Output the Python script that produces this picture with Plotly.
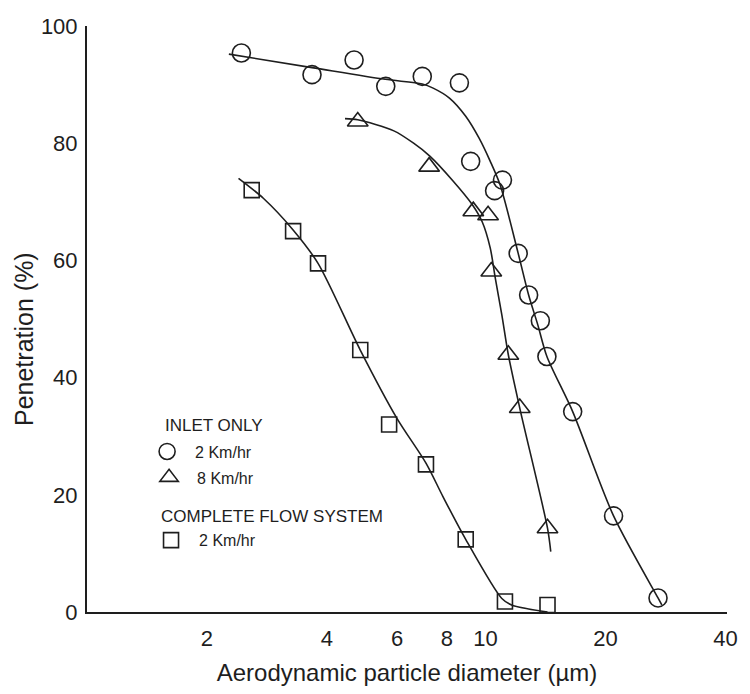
import math
import plotly.graph_objects as go

# ---------------- data ----------------
# Inlet only, 2 km/hr (circles)
inlet2_x = [2.44, 3.67, 4.68, 5.62, 6.94, 8.60, 9.18, 10.54, 11.03, 12.08, 12.83, 13.73, 14.26, 16.55, 20.96, 27.1]
inlet2_y = [95.4, 91.7, 94.2, 89.7, 91.4, 90.3, 76.9, 71.9, 73.7, 61.2, 54.1, 49.7, 43.6, 34.2, 16.4, 2.4]
inlet2_fit_x = [2.27, 3.67, 5.6, 6.94, 7.39, 8.12, 8.92, 9.63, 10.28, 10.88, 12.08, 12.83, 13.53, 14.26, 16.55, 20.96, 27.1, 27.7]
inlet2_fit_y = [95.2, 92.9, 90.9, 90.1, 89.4, 87.7, 84.6, 80.9, 76.9, 72.9, 61.2, 54.1, 49.0, 43.6, 34.2, 16.4, 2.4, 1.2]

# Inlet only, 8 km/hr (triangles)
inlet8_x = [4.78, 7.22, 9.32, 10.15, 10.34, 11.41, 12.19, 14.31]
inlet8_y = [83.7, 76.0, 68.4, 67.7, 58.1, 43.9, 34.8, 14.3]
inlet8_fit_x = [4.44, 4.78, 5.89, 6.60, 7.25, 8.28, 9.27, 9.81, 10.28, 10.58, 10.99, 11.41, 12.19, 14.31, 14.58]
inlet8_fit_y = [84.2, 84.0, 82.1, 80.0, 77.8, 73.6, 69.5, 66.6, 62.1, 57.0, 50.7, 43.9, 34.8, 14.3, 10.3]

# Complete flow system, 2 km/hr (squares)
system2_x = [2.59, 3.29, 3.80, 4.85, 5.73, 7.09, 8.92, 11.19, 14.31]
system2_y = [72.0, 65.0, 59.5, 44.7, 32.0, 25.2, 12.4, 1.8, 1.2]
system2_fit_x = [2.40, 2.77, 3.29, 3.80, 4.85, 6.00, 7.09, 7.82, 8.92, 10.99, 11.63, 14.31]
system2_fit_y = [74.0, 70.6, 65.2, 59.5, 44.7, 33.0, 25.4, 19.7, 12.4, 2.3, 1.2, 0.0]

x_ticks = [2, 4, 6, 8, 10, 20, 40]
y_ticks = [0, 20, 40, 60, 80, 100]

# ---------------- styling ----------------
INK = "#1e1e1e"
FONT = "Liberation Sans, Arial, Helvetica, sans-serif"
W, H = 750, 694
ML, MR, MT, MB = 87, 12, 26, 80
PW, PH = W - ML - MR, H - MT - MB
TICK_FS = 22
XTITLE_FS = 24
YTITLE_FS = 25
LEG_FS = 16
LEG_TITLE_FS = 17


def px_to_paper_x(px):
    return (px - ML) / PW


def px_to_paper_y(py):
    return (H - MB - py) / PH


fig = go.Figure()

line_style = dict(color=INK, width=1.6, shape="spline", smoothing=0.8)
for fx, fy in [(inlet2_fit_x, inlet2_fit_y), (inlet8_fit_x, inlet8_fit_y), (system2_fit_x, system2_fit_y)]:
    fig.add_trace(go.Scatter(x=fx, y=fy, mode="lines", line=line_style,
                             showlegend=False, hoverinfo="skip"))

mk_line = dict(color=INK, width=1.6)
fig.add_trace(go.Scatter(x=inlet2_x, y=inlet2_y, mode="markers", name="2 Km/hr", legend="legend",
                         marker=dict(symbol="circle-open", size=18, color=INK, line=mk_line)))
fig.add_trace(go.Scatter(x=inlet8_x, y=inlet8_y, mode="markers", name="8 Km/hr", legend="legend2",
                         marker=dict(symbol="triangle-up-open", size=18, color=INK, line=mk_line)))
fig.add_trace(go.Scatter(x=system2_x, y=system2_y, mode="markers", name="2 Km/hr", legend="legend3",
                         marker=dict(symbol="square-open", size=15, color=INK, line=mk_line)))

leg_common = dict(xanchor="left", yanchor="middle", bgcolor="rgba(0,0,0,0)",
                  font=dict(family=FONT, size=LEG_FS, color=INK), itemwidth=46)

fig.update_layout(
    width=W, height=H,
    margin=dict(l=ML, r=MR, t=MT, b=MB),
    paper_bgcolor="white", plot_bgcolor="white",
    font=dict(family=FONT, color=INK),
    legend=dict(x=px_to_paper_x(140), y=px_to_paper_y(453), **leg_common),
    legend2=dict(x=px_to_paper_x(142), y=px_to_paper_y(479), **leg_common),
    legend3=dict(x=px_to_paper_x(144), y=px_to_paper_y(542), **leg_common),
    xaxis=dict(
        type="log", range=[0, math.log10(40) + 0.004],
        tickmode="array", tickvals=x_ticks, ticktext=[str(v) for v in x_ticks],
        showgrid=False, zeroline=False, showline=True, linecolor=INK, linewidth=2,
        ticks="", ticklabelstandoff=6,
        tickfont=dict(family=FONT, size=TICK_FS, color=INK),
        title=dict(text="Aerodynamic particle diameter (\u00b5m)", standoff=14,
                   font=dict(family=FONT, size=XTITLE_FS, color=INK)),
    ),
    yaxis=dict(
        range=[0, 100], tickmode="array", tickvals=y_ticks,
        showgrid=False, zeroline=False, showline=True, linecolor=INK, linewidth=2,
        ticks="", ticklabelstandoff=3,
        tickfont=dict(family=FONT, size=TICK_FS, color=INK),
    ),
    annotations=[
        dict(text="Penetration (%)", xref="paper", yref="paper", x=px_to_paper_x(23), y=px_to_paper_y(340),
             xanchor="center", yanchor="middle", textangle=-90, showarrow=False,
             font=dict(family=FONT, size=YTITLE_FS, color=INK)),
        dict(text="INLET ONLY", xref="paper", yref="paper", x=px_to_paper_x(164), y=px_to_paper_y(427),
             xanchor="left", yanchor="middle", showarrow=False,
             font=dict(family=FONT, size=LEG_TITLE_FS, color=INK)),
        dict(text="COMPLETE FLOW SYSTEM", xref="paper", yref="paper", x=px_to_paper_x(160), y=px_to_paper_y(518),
             xanchor="left", yanchor="middle", showarrow=False,
             font=dict(family=FONT, size=LEG_TITLE_FS, color=INK)),
    ],
)

fig.write_html("out.html", config={"displayModeBar": False},
               post_script="document.body.style.margin='0px';")
